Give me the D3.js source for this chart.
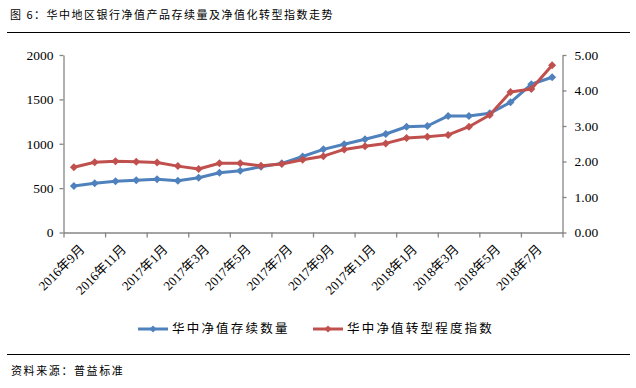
<!DOCTYPE html>
<html>
<head>
<meta charset="utf-8">
<script src="https://cdn.jsdelivr.net/npm/d3@7"></script>
<style>
  body { margin: 0; background: #fff; }
  svg { display: block; }
  .cjk { font-family: "Noto Sans CJK SC", sans-serif; }
  .num { font-family: "Liberation Serif", "Noto Sans CJK SC", serif; font-size: 13.5px; }
</style>
</head>
<body>
<div id="app"></div>
<script>
const months = ['2016年9月','2016年10月','2016年11月','2016年12月','2017年1月','2017年2月','2017年3月','2017年4月',
  '2017年5月','2017年6月','2017年7月','2017年8月','2017年9月','2017年10月','2017年11月','2017年12月',
  '2018年1月','2018年2月','2018年3月','2018年4月','2018年5月','2018年6月','2018年7月','2018年8月']
const stock = [524,554,577,588,599,584,617,674,696,741,779,856,937,994,1050,1110,1192,1200,1313,1313,1343,1467,1670,1749]
const transIndex = [1.84,1.98,2.01,1.99,1.97,1.87,1.79,1.95,1.95,1.88,1.93,2.05,2.15,2.34,2.43,2.51,2.66,2.70,2.75,2.98,3.31,3.96,4.04,4.71]
const leftTicks = [0,500,1000,1500,2000]
const rightTicks = [0,1,2,3,4,5]
const seriesNames = ['华中净值存续数量','华中净值转型程度指数']

const W = 636, H = 388
const blue = '#4F81BD', red = '#C0504D', axisCol = '#868686'

const svg = d3.select('#app').append('svg').attr('width',W).attr('height',H)

// title + rules
svg.append('text').attr('class','cjk').attr('x',10).attr('y',19)
  .style('font-size','11px').style('letter-spacing','1.5px')
  .text('图 6：华中地区银行净值产品存续量及净值化转型指数走势')
svg.append('line').attr('x1',7).attr('x2',630).attr('y1',32.5).attr('y2',32.5).attr('stroke','#000').attr('stroke-width',1.2)
svg.append('line').attr('x1',7).attr('x2',630).attr('y1',354.5).attr('y2',354.5).attr('stroke','#000').attr('stroke-width',1.2)
svg.append('text').attr('class','cjk').attr('x',11).attr('y',375)
  .style('font-size','11px').style('letter-spacing','1.6px')
  .text('资料来源：普益标准')

const x0 = 63.5, x1 = 562.5, yTop = 55, yBot = 232.5
const x = d3.scaleBand().domain(months).range([x0,x1]).padding(0)
const xi = d3.scaleLinear().domain([0,months.length]).range([x0,x1])
const yL = d3.scaleLinear().domain([0,2000]).range([yBot,yTop])
const yR = d3.scaleLinear().domain([0,5]).range([yBot,yTop])
const cx = d => x(d) + x.bandwidth()/2

function styleAxis(g) {
  g.select('.domain').attr('stroke',axisCol).attr('stroke-width',1.3)
  g.selectAll('.tick line').attr('stroke',axisCol).attr('stroke-width',1.3)
  g.selectAll('text').attr('class','num').attr('fill','#000')
}

svg.append('g').attr('transform',`translate(${x0},0)`)
  .call(d3.axisLeft(yL).tickValues(leftTicks).tickSize(4).tickSizeOuter(0).tickPadding(6).tickFormat(d3.format('d')))
  .call(styleAxis)
svg.append('g').attr('transform',`translate(${x1},0)`)
  .call(d3.axisRight(yR).tickValues(rightTicks).tickSize(4).tickSizeOuter(0).tickPadding(8).tickFormat(d3.format('.2f')))
  .call(styleAxis)
svg.append('g').attr('transform',`translate(0,${yBot})`)
  .call(d3.axisBottom(xi).tickValues(d3.range(0,months.length+1,2)).tickSize(5).tickSizeOuter(0).tickFormat(''))
  .call(styleAxis)

// rotated category labels, every other month
svg.append('g').selectAll('text').data(months.filter((d,i) => i % 2 === 0)).enter().append('text')
  .attr('class','num')
  .style('font-size','13px')
  .attr('text-anchor','end')
  .attr('transform',d => `translate(${cx(d)+5},${yBot+11}) rotate(-45)`)
  .attr('dy','0.7em')
  .text(d => d)

const diamond = {
  draw(ctx, size) {
    const r = Math.sqrt(size)/2
    ctx.moveTo(0,-r); ctx.lineTo(r,0); ctx.lineTo(0,r); ctx.lineTo(-r,0); ctx.closePath()
  }
}

const series = [
  {name: seriesNames[0], values: stock, y: yL, color: blue},
  {name: seriesNames[1], values: transIndex, y: yR, color: red}
]

series.forEach(s => {
  const line = d3.line().x((d,i) => cx(months[i])).y(d => s.y(d))
  svg.append('path').datum(s.values).attr('d',line)
    .attr('fill','none').attr('stroke',s.color).attr('stroke-width',3).attr('stroke-linejoin','round')
  svg.append('g').selectAll('path').data(s.values).enter().append('path')
    .attr('d',d3.symbol().type(diamond).size(64))
    .attr('transform',(d,i) => `translate(${cx(months[i])},${s.y(d)})`)
    .attr('fill',s.color)
})

// legend
const legX = [138, 313]
series.forEach((s,i) => {
  const g = svg.append('g').attr('transform',`translate(${legX[i]},329)`)
  g.append('line').attr('x1',0).attr('x2',30).attr('stroke',s.color).attr('stroke-width',3)
  g.append('path').attr('d',d3.symbol().type(diamond).size(49)).attr('transform','translate(15,0)').attr('fill',s.color)
  g.append('text').attr('class','cjk').attr('x',34).attr('dy','0.35em')
    .style('font-size','12.5px').style('letter-spacing','2.2px')
    .text(s.name)
})
</script>
</body>
</html>
